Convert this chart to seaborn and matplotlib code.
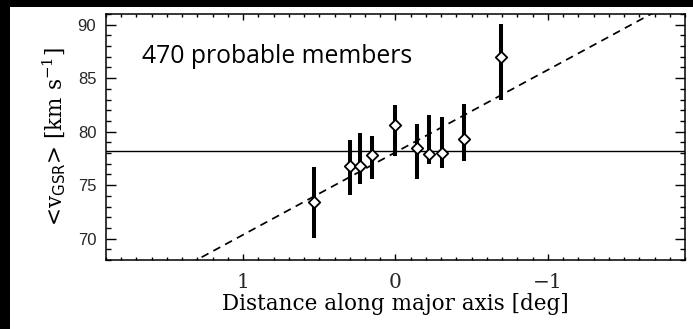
import numpy as np
import pandas as pd
import matplotlib
matplotlib.use("Agg")
import matplotlib.pyplot as plt
from matplotlib.patches import Rectangle
from matplotlib.ticker import MultipleLocator, FixedLocator
import seaborn as sns

# Binned mean velocities along the major axis
distance = [0.535, 0.300, 0.233, 0.156, 0.000, -0.143, -0.220, -0.305, -0.452, -0.693]
v_mean = [73.45, 76.80, 76.75, 77.82, 80.63, 78.45, 77.92, 78.00, 79.32, 86.94]
v_upper = [76.68, 79.22, 79.84, 79.56, 82.52, 80.70, 81.55, 81.38, 82.63, 90.07]
v_lower = [70.07, 74.11, 75.10, 75.55, 77.69, 75.55, 76.98, 76.57, 77.27, 82.96]

# Systemic velocity and linear gradient fit
v_systemic = 78.16
fit_intercept = 78.07
fit_slope = -7.71

x_ticks = [1, 0, -1]
x_ticklabels = ["1", "0", "\u22121"]
y_ticks = [70, 75, 80, 85, 90]
annotation = "470 probable members"

df = pd.DataFrame({"distance": distance, "v": v_mean,
                   "lo": v_lower, "hi": v_upper})

sns.set_theme(style="ticks")
plt.rcParams["font.family"] = ["DejaVu Serif"]
plt.rcParams["mathtext.fontset"] = "dejavuserif"

fig = plt.figure(figsize=(6.93, 3.29), dpi=100, facecolor="white")
ax = fig.add_axes([106 / 693, 1 - 260 / 329, (685 - 106) / 693, (260 - 14) / 329])

xlim = (1.9, -1.9)
ylim = (68, 91)

# systemic velocity
ax.axhline(v_systemic, color="black", lw=1.0, zorder=1)

# gradient fit line
fit_x = np.array(xlim)
fit_df = pd.DataFrame({"x": fit_x, "y": fit_intercept + fit_slope * fit_x})
sns.lineplot(data=fit_df, x="x", y="y", ax=ax, color="black", lw=1.25,
             linestyle=(0, (4.5, 3.2)), zorder=2)

# error bars
ax.vlines(df["distance"], df["lo"], df["hi"], color="black", lw=2.9, zorder=3)

# open diamonds
sns.scatterplot(data=df, x="distance", y="v", ax=ax, marker="D", s=34,
                facecolor="white", edgecolor="black", linewidth=1.3, zorder=4)

ax.set_xlim(*xlim)
ax.set_ylim(*ylim)

ax.xaxis.set_major_locator(FixedLocator(x_ticks))
ax.set_xticklabels(x_ticklabels)
ax.xaxis.set_minor_locator(MultipleLocator(0.1))
ax.yaxis.set_major_locator(FixedLocator(y_ticks))
ax.yaxis.set_minor_locator(MultipleLocator(1))

ax.tick_params(which="both", direction="in", top=True, right=True, color="black", width=1.0)
ax.tick_params(axis="y", which="major", length=7, pad=7, labelsize=12)
ax.tick_params(axis="y", which="minor", length=3.6)
ax.tick_params(axis="x", which="major", length=4, pad=9, labelsize=14.5)
ax.tick_params(axis="x", which="minor", length=2)
for lbl in ax.get_yticklabels():
    lbl.set_family(["Liberation Sans", "DejaVu Sans"])

for sp in ax.spines.values():
    sp.set_color("black")
    sp.set_linewidth(1.1)

ax.set_xlabel("Distance along major axis [deg]", fontsize=15.5, labelpad=1, color="black")
ax.set_ylabel(r"<v$_{\mathsf{GSR}}$> [km s$^{-1}$]", fontsize=15.5,
              labelpad=7, color="black")
ax.text(0.062, 0.80, annotation, transform=ax.transAxes, fontsize=17.8,
        family=["Open Sans", "DejaVu Sans"], color="black", ha="left", va="baseline")

# dark frame strips along the top and left edges
fig.add_artist(Rectangle((0, 0), 10 / 693, 1, transform=fig.transFigure,
                         facecolor="black", edgecolor="none", zorder=10))
fig.add_artist(Rectangle((0, 1 - 7 / 329), 1, 7 / 329, transform=fig.transFigure,
                         facecolor="black", edgecolor="none", zorder=10))

fig.savefig("out.png", dpi=100, facecolor="white")
